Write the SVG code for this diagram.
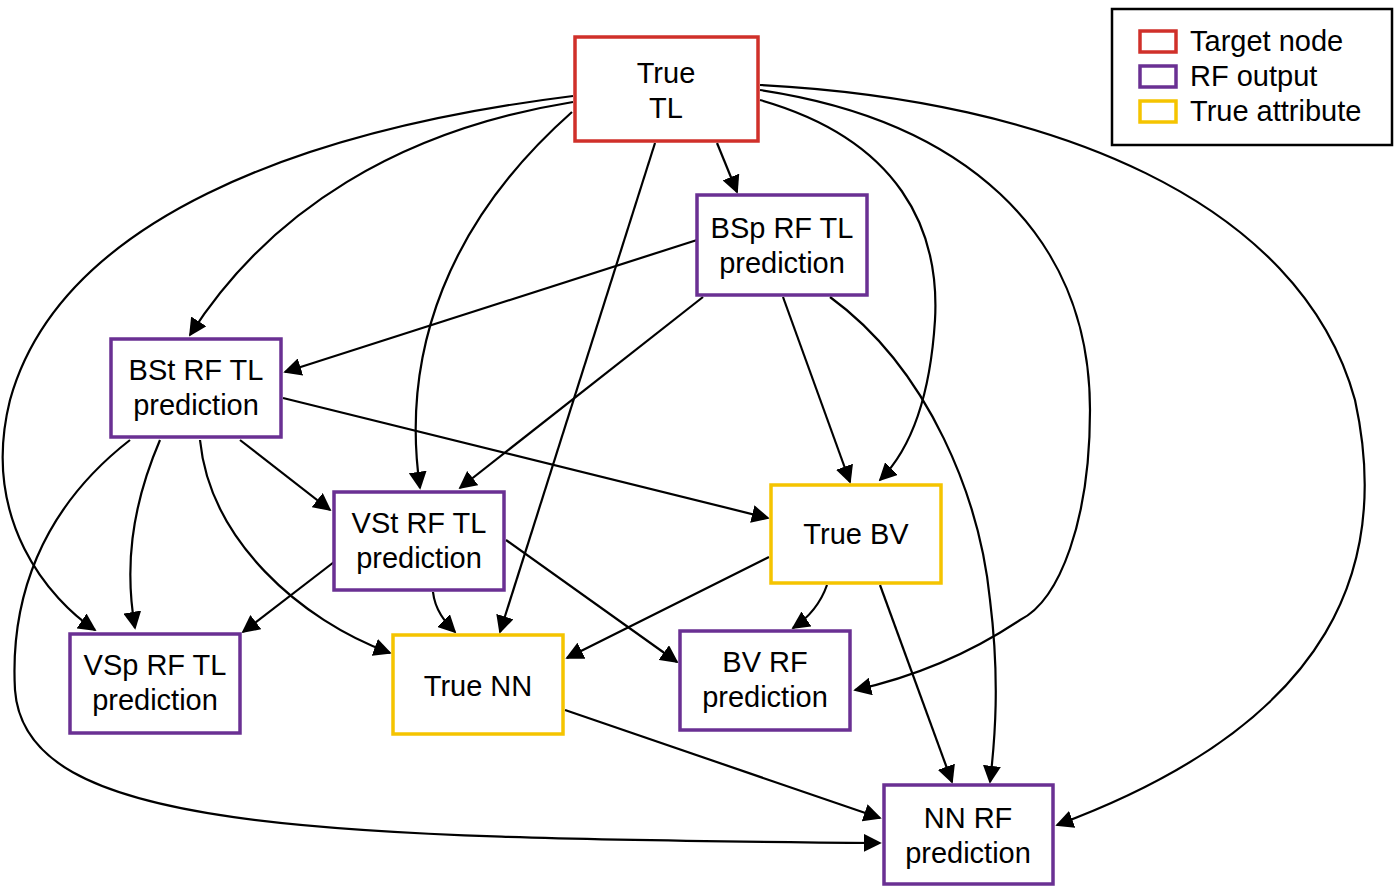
<svg xmlns="http://www.w3.org/2000/svg" width="1397" height="889" viewBox="0 0 1397 889">
<style>
.n{fill:#fff;stroke-width:3.5}
.r{stroke:#d0302a}.p{stroke:#6a3093}.y{stroke:#f5c400}
text{font-family:"Liberation Sans",Arial,sans-serif;font-size:29px;fill:#000;text-anchor:middle}
.lg{text-anchor:start}
#edges path{fill:none;stroke:#000;stroke-width:2.2;marker-end:url(#a)}
</style>
<defs><marker id="a" viewBox="0 0 10 10" refX="9" refY="5" markerWidth="8" markerHeight="8" markerUnits="userSpaceOnUse" orient="auto"><path d="M0,0L10,5L0,10z" fill="#000" transform="scale(1)"/></marker></defs>
<defs><marker id="b" viewBox="0 0 10 10" refX="9" refY="5" markerWidth="18" markerHeight="18" markerUnits="userSpaceOnUse" orient="auto"><path d="M0,0L10,5L0,10z" fill="#000"/></marker></defs>
<style>#edges path{marker-end:url(#b)}</style>
<g id="edges">
<path d="M717,143L737,192"/>
<path d="M573,102C400,130 270,210 190,335"/>
<path d="M572,112C450,220 400,350 420,488"/>
<path d="M655,143L500,632"/>
<path d="M573,96C300,130 60,220 10,400C-20,520 50,600 95,630"/>
<path d="M760,100C900,140 940,230 935,320C930,400 910,450 880,480"/>
<path d="M760,90C960,120 1090,230 1090,410C1090,520 1060,600 1020,620C960,660 900,680 855,690"/>
<path d="M760,85C1050,100 1300,200 1355,400C1390,560 1340,720 1057,825"/>
<path d="M697,240L285,372"/>
<path d="M703,297L460,488"/>
<path d="M783,297L850,482"/>
<path d="M830,297C930,370 980,500 990,600C1000,680 995,740 990,782"/>
<path d="M283,398L768,518"/>
<path d="M240,440L330,510"/>
<path d="M160,440C130,510 125,570 135,628"/>
<path d="M200,440C210,540 300,620 390,653"/>
<path d="M130,440C40,510 10,600 15,690C25,830 300,838 880,843"/>
<path d="M334,562L243,632"/>
<path d="M433,592C435,610 445,622 455,632"/>
<path d="M506,540L677,662"/>
<path d="M769,557L567,658"/>
<path d="M827,585C820,605 808,618 793,628"/>
<path d="M880,585L952,782"/>
<path d="M565,710L880,818"/>
</g>
<g id="trueTL"><rect class="n r" x="575" y="37" width="183" height="104"/><text x="666" y="83">True</text><text x="666" y="118">TL</text></g>
<g id="bsp"><rect class="n p" x="697" y="195" width="170" height="100"/><text x="782" y="238">BSp RF TL</text><text x="782" y="273">prediction</text></g>
<g id="bst"><rect class="n p" x="111" y="339" width="170" height="98"/><text x="196" y="380">BSt RF TL</text><text x="196" y="415">prediction</text></g>
<g id="vst"><rect class="n p" x="334" y="492" width="170" height="98"/><text x="419" y="533">VSt RF TL</text><text x="419" y="568">prediction</text></g>
<g id="truebv"><rect class="n y" x="771" y="485" width="170" height="98"/><text x="856" y="544">True BV</text></g>
<g id="vsp"><rect class="n p" x="70" y="634" width="170" height="99"/><text x="155" y="675">VSp RF TL</text><text x="155" y="710">prediction</text></g>
<g id="truenn"><rect class="n y" x="393" y="635" width="170" height="99"/><text x="478" y="696">True NN</text></g>
<g id="bvrf"><rect class="n p" x="680" y="631" width="170" height="99"/><text x="765" y="672">BV RF</text><text x="765" y="707">prediction</text></g>
<g id="nnrf"><rect class="n p" x="884" y="785" width="169" height="99"/><text x="968" y="828">NN RF</text><text x="968" y="863">prediction</text></g>
<g id="legend"><rect x="1112" y="9" width="280" height="136" fill="#fff" stroke="#000" stroke-width="2.5"/>
<rect class="n r" x="1140" y="31" width="36" height="21"/><text class="lg" x="1190" y="51">Target node</text>
<rect class="n p" x="1140" y="66" width="36" height="21"/><text class="lg" x="1190" y="86">RF output</text>
<rect class="n y" x="1140" y="101" width="36" height="21"/><text class="lg" x="1190" y="121">True attribute</text></g>
</svg>
